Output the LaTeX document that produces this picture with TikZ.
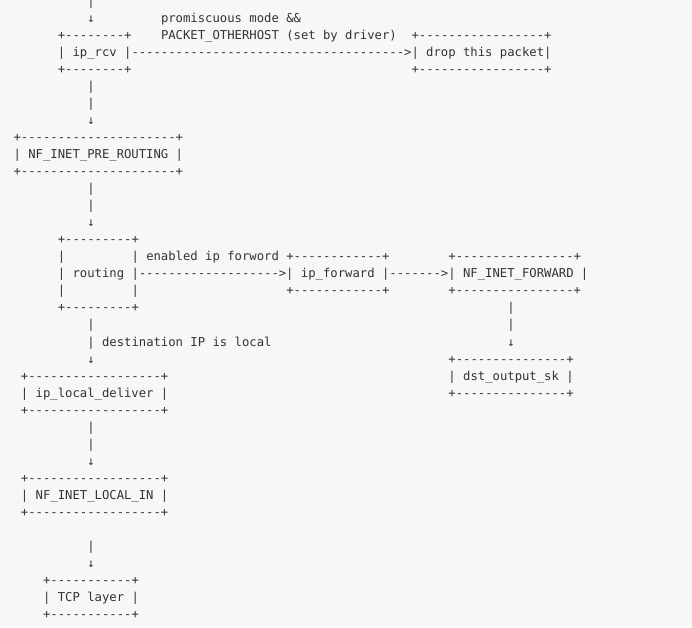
\documentclass[tikz,border=0pt]{standalone}
\usepackage{fontspec}
\newfontfamily\asciifont{DejaVu Sans Mono}[Ligatures=TeXOff]
\definecolor{bg}{HTML}{F7F7F7}
\definecolor{ink}{HTML}{333333}
\newcommand\hy[1]{\foreach\i in {1,...,#1}{-}}
\newcommand\seg[4]{\node[seg] (#1) at ({13.6+7.37*#3},{-(5.4+17.03*#2)}) {#4};}
\begin{document}
\begin{tikzpicture}[x=1pt,y=1pt,
  seg/.style={anchor=base west,inner sep=0pt,outer sep=0pt,
    font=\fontsize{12.24}{14}\asciifont,text=ink}]
\fill[bg] (0,0) rectangle (692,-627);
\useasboundingbox (0,0) rectangle (692,-627);
% top input
\seg{a0}{0}{10}{|}
\seg{a1}{1}{10}{↓}
\seg{lab1}{1}{20}{promiscuous mode \&\&}
\seg{rcvT}{2}{6}{+\hy{8}+}
\seg{lab2}{2}{20}{PACKET\_OTHERHOST (set by driver)}
\seg{dropT}{2}{54}{+\hy{17}+}
\seg{rcv}{3}{6}{| ip\_rcv |\hy{37}>| drop this packet|}
\seg{rcvB}{4}{6}{+\hy{8}+}
\seg{dropB}{4}{54}{+\hy{17}+}
\seg{b1}{5}{10}{|}
\seg{b2}{6}{10}{|}
\seg{b3}{7}{10}{↓}
% pre routing
\seg{preT}{8}{0}{+\hy{21}+}
\seg{pre}{9}{0}{| NF\_INET\_PRE\_ROUTING |}
\seg{preB}{10}{0}{+\hy{21}+}
\seg{c1}{11}{10}{|}
\seg{c2}{12}{10}{|}
\seg{c3}{13}{10}{↓}
% routing
\seg{rtT}{14}{6}{+\hy{9}+}
\seg{rtL1}{15}{6}{|}
\seg{lab3}{15}{16}{| enabled ip forword}
\seg{fwdT}{15}{37}{+\hy{12}+}
\seg{nffT}{15}{59}{+\hy{16}+}
\seg{rt}{16}{6}{| routing |\hy{19}>| ip\_forward |\hy{7}>| NF\_INET\_FORWARD |}
\seg{rtL3}{17}{6}{|}
\seg{rtR3}{17}{16}{|}
\seg{fwdB}{17}{37}{+\hy{12}+}
\seg{nffB}{17}{59}{+\hy{16}+}
\seg{rtB}{18}{6}{+\hy{9}+}
\seg{e1}{18}{67}{|}
\seg{e2}{19}{67}{|}
\seg{e3}{20}{67}{↓}
\seg{d1}{19}{10}{|}
\seg{lab4}{20}{10}{| destination IP is local}
\seg{d3}{21}{10}{↓}
% dst_output_sk
\seg{dstT}{21}{59}{+\hy{15}+}
\seg{dst}{22}{59}{| dst\_output\_sk |}
\seg{dstB}{23}{59}{+\hy{15}+}
% local deliver
\seg{ldT}{22}{1}{+\hy{18}+}
\seg{ld}{23}{1}{| ip\_local\_deliver |}
\seg{ldB}{24}{1}{+\hy{18}+}
\seg{f1}{25}{10}{|}
\seg{f2}{26}{10}{|}
\seg{f3}{27}{10}{↓}
% local in
\seg{liT}{28}{1}{+\hy{18}+}
\seg{li}{29}{1}{| NF\_INET\_LOCAL\_IN |}
\seg{liB}{30}{1}{+\hy{18}+}
\seg{g1}{32}{10}{|}
\seg{g2}{33}{10}{↓}
% tcp
\seg{tcpT}{34}{4}{+\hy{11}+}
\seg{tcp}{35}{4}{| TCP layer |}
\seg{tcpB}{36}{4}{+\hy{11}+}
\end{tikzpicture}
\end{document}
